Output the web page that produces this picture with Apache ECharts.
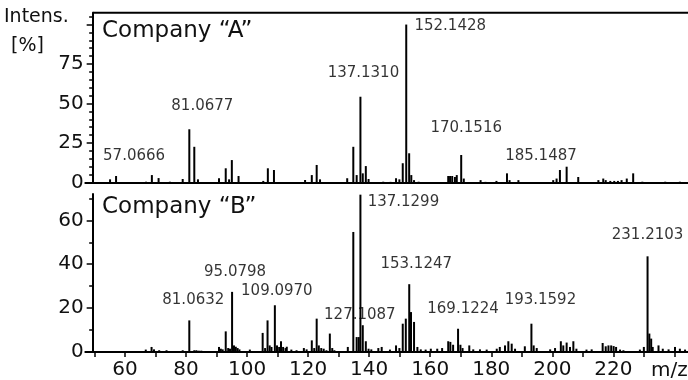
<!DOCTYPE html>
<html><head><meta charset="utf-8">
<script src="https://cdn.jsdelivr.net/npm/echarts@6/dist/echarts.min.js"></script>
<style>html,body{margin:0;padding:0;background:#fff}#c{width:688px;height:380px}</style>
</head><body><div id="c"></div>
<script>
// ---------- DATA ----------
const panelTitles = ['Company \u201cA\u201d', 'Company \u201cB\u201d'];
const yAxisTitle = ['Intens.', '[%]'];
const xAxisTitle = 'm/z';

// Company "A" (stick spectrum)
const mzA = [55.1, 57.0666, 66.9, 68.8, 71.0, 74.7, 78.9, 81.0677, 82.7, 83.9, 90.8, 93.0, 94.1, 95.0, 97.2,
  105.3, 106.8, 108.8, 119.0, 121.2, 122.8, 123.9, 132.8, 134.8, 135.9, 137.1310, 137.9, 138.9, 139.8,
  144.6, 147.0, 148.8, 149.9, 151.0, 152.1428, 153.1, 153.8, 154.7, 156.2, 165.9, 166.5, 167.2, 168.1,
  168.7, 170.1516, 171.0, 176.5, 178.1, 181.7, 185.1487, 186.0, 188.9, 200.3, 201.4, 202.5, 204.7, 208.5,
  215.1, 216.7, 217.5, 219.0, 220.3, 221.5, 222.7, 224.4, 226.5, 229.5, 237.0, 241.8];
const intA = [2.0, 4.1, 0.5, 4.7, 2.8, 0.5, 2.2, 33.7, 22.6, 2.0, 2.7, 9.0, 2.0, 14.2, 4.1,
  1.0, 9.0, 7.9, 1.6, 4.7, 11.1, 2.0, 2.7, 22.6, 4.7, 54.3, 5.8, 10.4, 2.2,
  0.5, 0.4, 2.7, 2.0, 12.2, 100, 18.5, 4.7, 1.5, 0.5, 4.1, 4.1, 4.1, 3.5,
  4.7, 17.4, 2.5, 1.5, 0.4, 1.0, 5.8, 1.5, 1.5, 1.5, 2.5, 7.9, 10.0, 3.5,
  1.5, 2.5, 1.5, 1.0, 1.0, 1.0, 1.5, 2.5, 5.8, 0.5, 0.5, 0.5];
const labelsA = ['57.0666', '81.0677', '137.1310', '152.1428', '170.1516', '185.1487'];

// Company "B"
const mzB = [66.8, 68.7, 69.5, 71.2, 73.6, 78.9, 81.0632, 82.7, 83.4, 84.2, 85.0, 90.8, 91.4, 92.0, 93.0,
  93.8, 94.4, 95.0798, 95.7, 96.3, 96.9, 97.5, 100.9, 105.1, 105.9, 106.7, 107.4, 108.0, 109.0970, 109.8,
  110.5, 111.1, 111.8, 112.6, 113.0, 114.5, 116.2, 118.6, 119.5, 121.2, 122.0, 122.8, 123.5, 124.3, 125.1,
  126.0, 127.1087, 127.9, 128.6, 133.0, 134.8, 135.9, 136.6, 137.1299, 137.9, 138.9, 139.8, 140.7, 143.0,
  144.1, 146.8, 148.8, 149.9, 151.0, 152.0, 153.1247, 153.7, 154.7, 155.8, 156.9, 158.5, 160.2, 162.3,
  163.9, 165.9, 166.6, 167.5, 169.1224, 169.9, 170.6, 172.8, 174.1, 176.3, 178.5, 181.8, 182.8, 184.5,
  185.6, 186.7, 187.8, 191.0, 193.1592, 193.9, 194.9, 199.3, 200.9, 202.8, 203.6, 204.7, 205.8, 206.9,
  207.9, 211.2, 212.9, 216.5, 217.5, 218.4, 219.3, 220.1, 220.9, 222.2, 223.3, 228.7, 230.0, 231.2103,
  231.8, 232.4, 232.9, 234.8, 236.2, 238.1, 240.2, 241.8, 243.5];
const intB = [1.1, 2.3, 1.2, 0.8, 0.8, 0.8, 14.4, 0.8, 0.8, 0.6, 0.6, 2.3, 1.5, 1.2, 9.4,
  1.8, 1.5, 27.4, 3.0, 2.4, 1.8, 1.2, 1.1, 8.7, 1.8, 14.4, 3.0, 2.3, 21.3, 3.0,
  2.3, 4.9, 2.3, 1.8, 2.4, 1.1, 0.8, 1.8, 1.2, 5.3, 1.8, 15.2, 3.0, 1.8, 1.5,
  0.8, 8.4, 1.8, 0.8, 2.3, 54.7, 6.8, 6.8, 71.7, 12.2, 4.9, 1.5, 1.2, 1.8,
  2.3, 1.1, 3.0, 1.8, 12.9, 15.2, 30.9, 18.2, 13.7, 2.3, 1.2, 1.1, 1.5, 1.5,
  1.8, 4.9, 4.6, 3.3, 10.6, 3.3, 1.8, 3.0, 1.2, 1.2, 1.1, 1.5, 2.3, 3.0,
  4.9, 3.8, 1.5, 2.6, 12.9, 3.0, 1.8, 1.2, 1.8, 4.9, 3.0, 4.3, 2.3, 4.9,
  1.5, 1.1, 1.2, 4.1, 2.6, 3.0, 3.0, 2.7, 2.3, 1.1, 0.8, 1.1, 2.3, 43.6,
  8.4, 6.1, 2.3, 3.0, 1.5, 1.2, 2.3, 1.5, 1.1];
const labelsB = ['81.0632', '95.0798', '109.0970', '127.1087', '137.1299', '153.1247', '169.1224', '193.1592', '231.2103'];

// Axis ticks
const xTickLabels = [60, 80, 100, 120, 140, 160, 180, 200, 220];
const xTickMarks = [50, 60, 70, 80, 90, 100, 110, 120, 130, 140, 150, 160, 170, 180, 190, 200, 210, 220, 230, 240];
const yTickLabelsA = [0, 25, 50, 75];
const yMajorA = [0, 25, 50, 75, 100];
const yMinorA = [5, 10, 15, 20, 30, 35, 40, 45, 55, 60, 65, 70, 80, 85, 90, 95, 105];
const yTickLabelsB = [0, 20, 40, 60];
const yMinorB = [10, 30, 50, 70];

// ---------- STYLE / LAYOUT ----------
const FONT = 'DejaVu Sans';
const INK = '#000';
const TXT = '#111';
const X_MIN = 47, X_MAX = 245, AXIS_AT = 49.4;
const Y_MAX_A = 107.5, Y_MAX_B = 72;
const labelOffsetA = [[18, -20], [13, -23], [3, -24], [44, 2], [5, -27], [34, -17]];
const labelOffsetB = [[4, -20], [3, -20], [2, -14], [30, -18], [43, 7], [7, -20], [5, -20], [9, -24], [0, -21]];
const pxPerUnit = 3.052;
const yOffset = -(AXIS_AT - X_MIN) * pxPerUnit;

function pairs(xs, ys) { return xs.map((x, i) => [x, ys[i]]); }
function labelData(labels, xs, ys, offs) {
  return labels.map((t, i) => {
    const m = parseFloat(t);
    let best = 0;
    xs.forEach((x, j) => { if (Math.abs(x - m) < Math.abs(xs[best] - m)) best = j; });
    return { value: [m, ys[best]], label: { formatter: t, offset: offs[i] } };
  });
}

const chart = echarts.init(document.getElementById('c'), null, { renderer: 'canvas' });
const lineStyle = { color: INK, width: 2 };
const tickStyle = { color: INK, width: 1.5 };

function yAx(grid, max, ticks, labels, len, showLine) {
  return {
    gridIndex: grid, type: 'value', min: 0, max: max, position: 'left', offset: yOffset,
    axisLine: { show: showLine, onZero: false, lineStyle: lineStyle },
    axisTick: { show: true, customValues: ticks, length: len, lineStyle: tickStyle },
    axisLabel: labels ? { show: true, customValues: labels, fontSize: 20, fontFamily: FONT, color: TXT, margin: 9 } : { show: false },
    splitLine: { show: false }
  };
}

const annLabel = { show: true, position: 'inside', fontSize: 15, fontFamily: FONT, color: '#000', textBorderWidth: 0 };

chart.setOption({
  animation: false,
  backgroundColor: '#fff',
  grid: [
    { left: 85.34, top: 12.7, width: (X_MAX - X_MIN) * pxPerUnit, height: 169.8, outerBoundsMode: 'none', containLabel: false },
    { left: 85.34, top: 194, width: (X_MAX - X_MIN) * pxPerUnit, height: 158, outerBoundsMode: 'none', containLabel: false }
  ],
  xAxis: [
    { gridIndex: 0, type: 'value', min: X_MIN, max: X_MAX,
      axisLine: { show: true, onZero: false, lineStyle: lineStyle }, axisTick: { show: false }, axisLabel: { show: false }, splitLine: { show: false } },
    { gridIndex: 1, type: 'value', min: X_MIN, max: X_MAX,
      axisLine: { show: true, onZero: false, lineStyle: lineStyle },
      axisTick: { show: true, customValues: xTickMarks, length: 5, lineStyle: tickStyle },
      axisLabel: { show: true, customValues: xTickLabels, fontSize: 20, fontFamily: FONT, color: TXT, margin: 8 },
      splitLine: { show: false } }
  ],
  yAxis: [
    yAx(0, Y_MAX_A, yMajorA, yTickLabelsA, 6, true),
    yAx(0, Y_MAX_A, yMinorA, null, 3.5, false),
    yAx(1, Y_MAX_B, yTickLabelsB, yTickLabelsB, 6, true),
    yAx(1, Y_MAX_B, yMinorB, null, 3.5, false)
  ],
  series: [
    { type: 'bar', xAxisIndex: 0, yAxisIndex: 0, data: pairs(mzA, intA), barWidth: 2, itemStyle: { color: INK }, silent: true },
    { type: 'bar', xAxisIndex: 1, yAxisIndex: 2, data: pairs(mzB, intB), barWidth: 2, itemStyle: { color: INK }, silent: true },
    { type: 'scatter', xAxisIndex: 0, yAxisIndex: 0, symbolSize: 1, itemStyle: { color: 'rgba(0,0,0,0)' }, silent: true,
      label: annLabel, data: labelData(labelsA, mzA, intA, labelOffsetA) },
    { type: 'scatter', xAxisIndex: 1, yAxisIndex: 2, symbolSize: 1, itemStyle: { color: 'rgba(0,0,0,0)' }, silent: true,
      label: annLabel, data: labelData(labelsB, mzB, intB, labelOffsetB) }
  ]
});

const fx = chart.convertToPixel({ xAxisIndex: 0 }, AXIS_AT);
const fy = chart.convertToPixel({ yAxisIndex: 0 }, Y_MAX_A);
chart.setOption({
  graphic: [
    { type: 'line', shape: { x1: fx, y1: fy, x2: 688, y2: fy }, style: { stroke: INK, lineWidth: 2 }, silent: true },
    { type: 'text', left: 4, top: 7.5, style: { text: yAxisTitle[0], font: '19px "DejaVu Sans"', fill: TXT } },
    { type: 'text', left: 11, top: 37, style: { text: yAxisTitle[1], font: '19px "DejaVu Sans"', fill: TXT } },
    { type: 'text', left: 102, top: 20, style: { text: panelTitles[0], font: '23px "DejaVu Sans"', fill: TXT } },
    { type: 'text', left: 102, top: 196, style: { text: panelTitles[1], font: '23px "DejaVu Sans"', fill: TXT } },
    { type: 'text', left: 651, top: 360.5, style: { text: xAxisTitle, font: '20px "DejaVu Sans"', fill: TXT } }
  ]
});
</script></body></html>
